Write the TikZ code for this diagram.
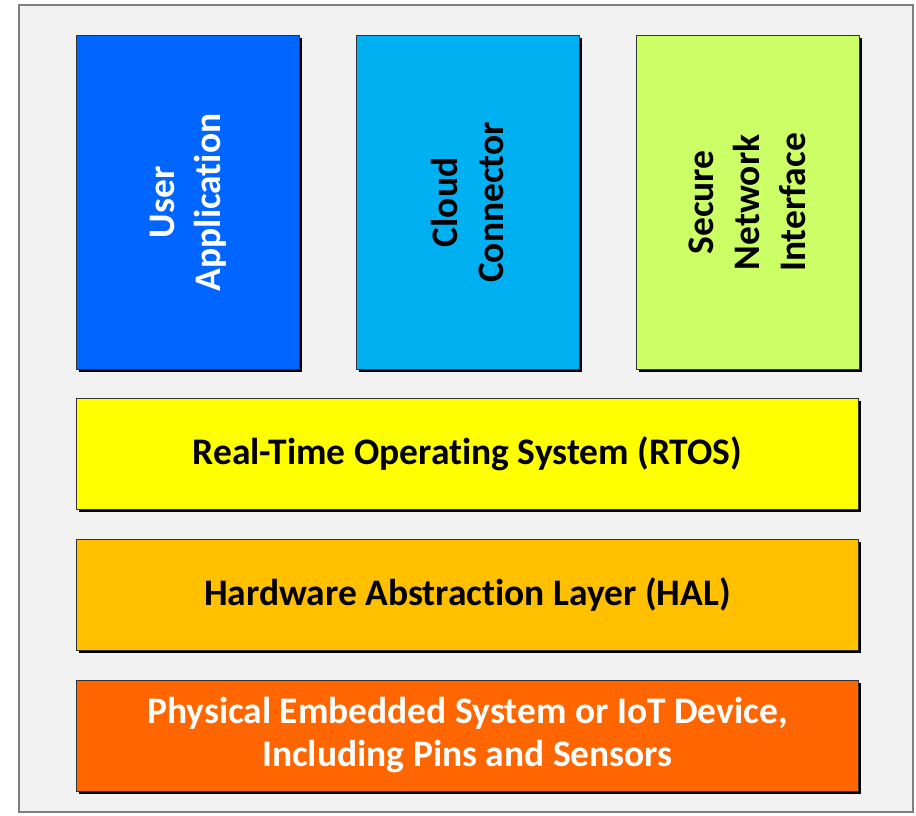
\documentclass[tikz,border=0pt]{standalone}
\usepackage{fontspec}
\setmainfont{Carlito}[RawFeature=-liga]
\usetikzlibrary{positioning,shadows}

\definecolor{appblue}{RGB}{0,102,255}
\definecolor{cloudcyan}{RGB}{0,176,240}
\definecolor{netgreen}{RGB}{204,255,102}
\definecolor{rtosyellow}{RGB}{255,255,0}
\definecolor{halamber}{RGB}{255,192,0}
\definecolor{devorange}{RGB}{255,102,0}
\definecolor{framegray}{RGB}{242,242,242}

\begin{document}
\begin{tikzpicture}[
    x=1pt, y=-1pt,
    layer/.style={rectangle, draw=black!80, line width=0.8pt, text centered,
      font=\fontsize{37.5}{43}\selectfont\bfseries,
      drop shadow={shadow xshift=3pt, shadow yshift=-3pt, fill=black, opacity=1}},
    stackbox/.style={layer, minimum width=223pt, minimum height=334pt},
    wide/.style={layer, minimum width=782pt, minimum height=111pt},
    vlabel/.style={rotate=90, align=center, font=\fontsize{37.5}{46}\selectfont\bfseries}
]
\useasboundingbox (0,0) rectangle (916,815);

% Outer frame
\draw[draw=black!50, line width=1.5pt, fill=framegray] (19,5) rectangle (913,812);

% Top row of components
\node (userapp) [stackbox, fill=appblue, anchor=north west] at (76,35) {};
\node (cloud) [stackbox, fill=cloudcyan, right=56pt of userapp] {};
\node (secnet) [stackbox, fill=netgreen, right=56pt of cloud] {};

\node (userapptxt) [vlabel, text=white] at (userapp) {User\\Application};
\node (cloudtxt) [vlabel] at (cloud) {Cloud\\Connector};
\node (secnettxt) [vlabel] at (secnet) {Secure\\Network\\Interface};

% Layers
\node (rtos) [wide, fill=rtosyellow, anchor=north west] at (76,398)
  {Real-Time Operating System (RTOS)};
\node (hal) [wide, fill=halamber, below=29pt of rtos] {Hardware Abstraction Layer (HAL)};
\node (device) [wide, fill=devorange, text=white, align=center, below=29pt of hal]
  {Physical Embedded System or IoT Device,\\Including Pins and Sensors};

\end{tikzpicture}
\end{document}
